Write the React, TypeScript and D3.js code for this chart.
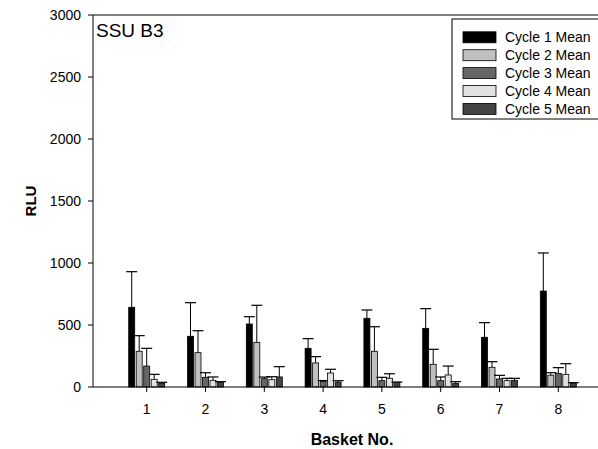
import React from "react";
import * as d3 from "d3";

const categories = ["1", "2", "3", "4", "5", "6", "7", "8"];
const seriesNames = ["Cycle 1 Mean", "Cycle 2 Mean", "Cycle 3 Mean", "Cycle 4 Mean", "Cycle 5 Mean"];
const seriesColors = ["#000000", "#c0c0c0", "#666666", "#e2e2e2", "#444444"];

const cycle1 = [643, 409, 508, 312, 554, 473, 401, 774];
const cycle2 = [288, 277, 360, 194, 288, 183, 159, 95];
const cycle3 = [169, 78, 67, 45, 51, 51, 65, 110];
const cycle4 = [62, 54, 59, 113, 70, 97, 51, 102];
const cycle5 = [30, 38, 81, 40, 38, 30, 54, 30];

const err1 = [930, 680, 567, 390, 621, 632, 519, 1081];
const err2 = [414, 454, 659, 245, 486, 304, 204, 115];
const err3 = [312, 115, 80, 52, 78, 81, 94, 156];
const err4 = [102, 81, 83, 143, 107, 169, 70, 188];
const err5 = [38, 43, 164, 51, 40, 43, 70, 35];

const yTicks = [0, 500, 1000, 1500, 2000, 2500, 3000];

const values = [cycle1, cycle2, cycle3, cycle4, cycle5];
const errTops = [err1, err2, err3, err4, err5];

export default function App() {
  const W = 598;
  const H = 449;
  const left = 93;
  const top = 15;
  const bottom = 387;
  const right = 611;
  const font = "Liberation Sans, Arial, sans-serif";

  const y = d3.scaleLinear().domain([0, 3000]).range([bottom, top]);
  const step = 58.8;
  const start = 146.7 - step / 2;
  const x0 = d3
    .scaleBand<string>()
    .domain(categories)
    .range([start, start + step * categories.length])
    .paddingInner(0.388)
    .paddingOuter(0.194);
  const x1 = d3
    .scaleBand<string>()
    .domain(seriesNames)
    .range([0, x0.bandwidth()])
    .paddingInner(0.2)
    .paddingOuter(0);

  const bw = x1.bandwidth();
  const capW = 11;

  return (
    <svg
      width={W}
      height={H}
      style={{ position: "absolute", left: 0, top: 0, background: "#fff" }}
      fontFamily={font}
    >
      <rect x={0} y={0} width={W} height={H} fill="#fff" />
      {/* bars */}
      {categories.map((c, ci) => (
        <g key={c} transform={`translate(${x0(c)},0)`}>
          {seriesNames.map((s, si) => {
            const v = values[si][ci];
            const e = errTops[si][ci];
            const bx = x1(s)!;
            const cx = bx + bw / 2;
            return (
              <g key={s}>
                <line x1={cx} x2={cx} y1={y(v)} y2={y(e)} stroke="#000" strokeWidth={1} />
                <line x1={cx - capW / 2} x2={cx + capW / 2} y1={y(e)} y2={y(e)} stroke="#000" strokeWidth={1.2} />
                <rect
                  x={bx}
                  y={y(v)}
                  width={bw}
                  height={bottom - y(v)}
                  fill={seriesColors[si]}
                  stroke="#000"
                  strokeWidth={0.8}
                />
              </g>
            );
          })}
        </g>
      ))}

      {/* frame */}
      <line x1={left} x2={right} y1={top} y2={top} stroke="#000" strokeWidth={1} />
      <line x1={left} x2={left} y1={top} y2={bottom} stroke="#000" strokeWidth={1} />
      <line x1={left} x2={right} y1={bottom} y2={bottom} stroke="#000" strokeWidth={1} />

      {/* y ticks */}
      {yTicks.map((t) => (
        <g key={t}>
          <line x1={left - 5} x2={left} y1={y(t)} y2={y(t)} stroke="#000" />
          <text x={81} y={y(t)} dy="0.35em" textAnchor="end" fontSize={14}>
            {t}
          </text>
        </g>
      ))}

      {/* x ticks */}
      {categories.map((c) => {
        const cx = x0(c)! + x0.bandwidth() / 2;
        return (
          <g key={c}>
            <line x1={cx} x2={cx} y1={bottom} y2={bottom + 5} stroke="#000" />
            <text x={cx} y={413.5} textAnchor="middle" fontSize={14}>
              {c}
            </text>
          </g>
        );
      })}

      {/* axis titles */}
      <text x={(left + right) / 2} y={445} textAnchor="middle" fontSize={16} fontWeight="bold">
        Basket No.
      </text>
      <text
        transform={`translate(36,${(top + bottom) / 2}) rotate(-90)`}
        textAnchor="middle"
        fontSize={15}
        fontWeight="bold"
      >
        RLU
      </text>

      {/* panel title */}
      <text x={96} y={36.5} fontSize={19}>
        SSU B3
      </text>

      {/* legend */}
      <rect x={452} y={19} width={170} height={100} fill="#fff" stroke="#000" strokeWidth={1} />
      {seriesNames.map((s, i) => {
        const ly = 37.3 + i * 17.9;
        return (
          <g key={s}>
            <rect x={463} y={ly - 5.5} width={33} height={11} fill={seriesColors[i]} stroke="#000" strokeWidth={0.8} />
            <text x={505} y={ly} dy="0.35em" fontSize={14}>
              {s}
            </text>
          </g>
        );
      })}
    </svg>
  );
}
